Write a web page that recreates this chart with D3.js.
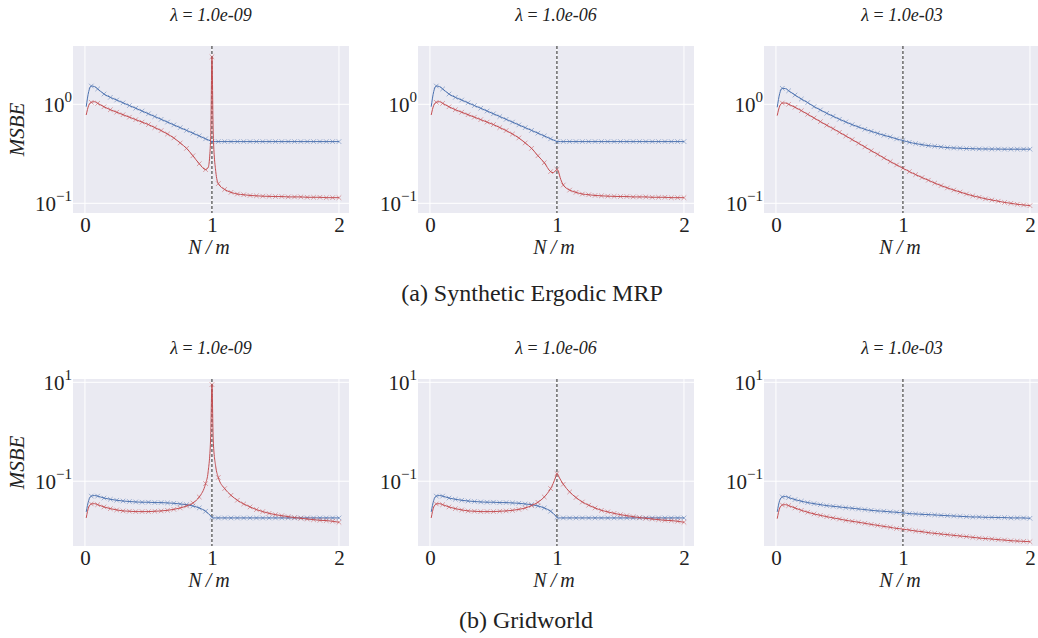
<!DOCTYPE html>
<html><head><meta charset="utf-8">
<script src="https://cdn.jsdelivr.net/npm/d3@7"></script>
<style>body{margin:0;background:#fff}svg{display:block}text{font-family:"Liberation Serif","Times New Roman",serif;fill:#222}</style>
</head><body><svg id="c" width="1038" height="638"></svg>
<script>
// x = N/m
const X = [0.01,0.03,0.05,0.075,0.1,0.15,0.2,0.25,0.3,0.35,0.4,0.45,0.5,0.55,0.6,0.65,0.7,0.75,0.8,0.85,0.9,0.95,0.97,0.99,1.0,1.01,1.03,1.05,1.1,1.15,1.2,1.25,1.3,1.35,1.4,1.45,1.5,1.55,1.6,1.65,1.7,1.75,1.8,1.85,1.9,1.95,2.0];
const lambdas = ["1.0e-09","1.0e-06","1.0e-03"];
const captions = ["(a) Synthetic Ergodic MRP","(b) Gridworld"];
// (a) Synthetic Ergodic MRP
const blueA_9 = [0.946,1.35,1.53,1.51,1.43,1.27,1.175,1.104,1.035,0.971,0.912,0.855,0.802,0.752,0.705,0.661,0.619,0.581,0.545,0.511,0.479,0.448,0.437,0.425,0.420,0.420,0.420,0.420,0.420,0.420,0.420,0.420,0.420,0.420,0.420,0.420,0.420,0.420,0.420,0.420,0.420,0.420,0.420,0.420,0.420,0.420,0.420];
const redA_9 = [0.780,0.977,1.047,1.062,1.023,0.944,0.881,0.832,0.785,0.741,0.700,0.661,0.624,0.582,0.543,0.501,0.457,0.407,0.359,0.302,0.251,0.219,0.229,0.447,3.02,0.501,0.209,0.158,0.138,0.129,0.124,0.122,0.120,0.119,0.118,0.1175,0.117,0.117,0.116,0.116,0.116,0.115,0.115,0.115,0.114,0.114,0.114];
const blueA_6 = [0.946,1.35,1.53,1.51,1.43,1.27,1.175,1.104,1.035,0.971,0.912,0.855,0.802,0.752,0.705,0.661,0.619,0.581,0.545,0.511,0.479,0.448,0.437,0.425,0.420,0.420,0.420,0.420,0.420,0.420,0.420,0.420,0.420,0.420,0.420,0.420,0.420,0.420,0.420,0.420,0.420,0.420,0.420,0.420,0.420,0.420,0.420];
const redA_6 = [0.780,0.977,1.047,1.062,1.023,0.944,0.881,0.832,0.785,0.741,0.700,0.661,0.624,0.582,0.543,0.501,0.457,0.407,0.359,0.302,0.257,0.209,0.204,0.214,0.220,0.211,0.174,0.153,0.136,0.129,0.124,0.122,0.120,0.119,0.118,0.1175,0.117,0.117,0.116,0.116,0.116,0.115,0.115,0.115,0.114,0.114,0.114];
const blueA_3 = [0.933,1.29,1.45,1.44,1.37,1.24,1.13,1.04,0.947,0.877,0.811,0.757,0.706,0.663,0.623,0.590,0.559,0.534,0.509,0.486,0.468,0.447,0.440,0.433,0.430,0.427,0.420,0.413,0.401,0.391,0.382,0.377,0.371,0.365,0.362,0.360,0.357,0.356,0.354,0.354,0.353,0.353,0.352,0.352,0.352,0.352,0.352];
const redA_3 = [0.769,0.962,1.03,1.03,1.0,0.933,0.863,0.792,0.728,0.668,0.614,0.568,0.521,0.479,0.440,0.404,0.371,0.340,0.313,0.287,0.264,0.244,0.237,0.229,0.226,0.222,0.216,0.209,0.195,0.182,0.171,0.160,0.151,0.143,0.136,0.130,0.124,0.119,0.115,0.111,0.108,0.105,0.102,0.100,0.0977,0.0962,0.0947];
// (b) Gridworld
const blueB_9 = [0.024,0.0412,0.050,0.0513,0.050,0.0457,0.0431,0.0412,0.0398,0.0389,0.0381,0.0376,0.0376,0.0370,0.0370,0.0364,0.0358,0.0347,0.0336,0.0316,0.0288,0.0247,0.0224,0.0199,0.0186,0.0181,0.0181,0.0181,0.0181,0.0181,0.0181,0.0181,0.0181,0.0181,0.0181,0.0181,0.0181,0.0181,0.0181,0.0181,0.0181,0.0181,0.0181,0.0181,0.0181,0.0181,0.0181];
const redB_9 = [0.0181,0.0302,0.0347,0.0352,0.0336,0.0302,0.0279,0.0263,0.0251,0.0247,0.0243,0.0243,0.0243,0.0247,0.0251,0.0258,0.0270,0.0288,0.0316,0.0363,0.0481,0.0897,0.155,0.79,9.0,0.68,0.195,0.119,0.071,0.052,0.0412,0.0347,0.0302,0.0267,0.0243,0.0224,0.0211,0.0201,0.0192,0.0184,0.0178,0.0172,0.0167,0.0162,0.0160,0.0155,0.0148];
const blueB_6 = [0.024,0.0412,0.050,0.0513,0.050,0.0457,0.0431,0.0412,0.0398,0.0389,0.0381,0.0376,0.0376,0.0370,0.0370,0.0364,0.0358,0.0347,0.0336,0.0316,0.0288,0.0247,0.0224,0.0199,0.0186,0.0181,0.0181,0.0181,0.0181,0.0181,0.0181,0.0181,0.0181,0.0181,0.0181,0.0181,0.0181,0.0181,0.0181,0.0181,0.0181,0.0181,0.0181,0.0181,0.0181,0.0181,0.0181];
const redB_6 = [0.0181,0.0302,0.0347,0.0352,0.0336,0.0302,0.0279,0.0263,0.0251,0.0247,0.0243,0.0243,0.0243,0.0247,0.0251,0.0258,0.0270,0.0288,0.0322,0.0375,0.0481,0.071,0.0897,0.122,0.143,0.130,0.105,0.087,0.0608,0.0468,0.038,0.0327,0.0288,0.0258,0.024,0.0224,0.0211,0.0201,0.0192,0.0184,0.0178,0.0172,0.0167,0.0162,0.0160,0.0155,0.0148];
const blueB_3 = [0.024,0.0412,0.0481,0.049,0.0468,0.0425,0.0394,0.0370,0.0352,0.0336,0.0321,0.0311,0.0302,0.0292,0.0284,0.0275,0.0267,0.0258,0.0251,0.0247,0.0240,0.0236,0.0232,0.0232,0.0228,0.0228,0.0224,0.0221,0.0218,0.0214,0.0211,0.0208,0.0204,0.0201,0.0198,0.0195,0.0192,0.0189,0.0189,0.0186,0.0186,0.0184,0.0184,0.0181,0.0181,0.0181,0.0178];
const redB_3 = [0.0175,0.0288,0.0331,0.0336,0.0321,0.0288,0.0258,0.0236,0.0218,0.0204,0.0192,0.0181,0.0172,0.0162,0.0155,0.0148,0.0141,0.0134,0.0128,0.0122,0.0117,0.0111,0.0110,0.0108,0.0106,0.0106,0.0105,0.0103,0.00985,0.00955,0.00912,0.00883,0.00855,0.00831,0.00804,0.00780,0.00759,0.00733,0.00710,0.00692,0.00678,0.00658,0.00646,0.00627,0.00617,0.00608,0.00598];
const xTicks = [0,1,2];
const yTicksA = [1, 0.1], yTickExpA = ["0","\u22121"];
const yTicksB = [10, 0.1], yTickExpB = ["1","\u22121"];

const BLUE = "#4C72B0", RED = "#C44E52";
const svg = d3.select("#c");
const colLeft = [73, 418, 764], PW = 276, PH = 167;
const rows = [
  {top:46, dom:[0.0798,3.88], ticks:yTicksA, exps:yTickExpA, series:[[blueA_9,redA_9],[blueA_6,redA_6],[blueA_3,redA_3]], cap:captions[0], capY:301, titleY:21},
  {top:379, dom:[0.0049,11.67], ticks:yTicksB, exps:yTickExpB, series:[[blueB_9,redB_9],[blueB_6,redB_6],[blueB_3,redB_3]], cap:captions[1], capY:628, titleY:354}
];
const isMarker = x => x >= 0.049 && Math.abs(x*20 - Math.round(x*20)) < 1e-6;

rows.forEach((R, ri) => {
  R.series.forEach((pair, ci) => {
    const left = colLeft[ci], top = R.top;
    const x = d3.scaleLinear().domain([-0.094, 2.079]).range([left, left+PW]);
    const y = d3.scaleLog().domain(R.dom).range([top+PH, top]);
    const g = svg.append("g");
    g.append("rect").attr("x",left).attr("y",top).attr("width",PW).attr("height",PH).attr("fill","#EAEAF2");
    g.selectAll(".gx").data(xTicks).join("line").attr("x1",d=>x(d)).attr("x2",d=>x(d)).attr("y1",top).attr("y2",top+PH).attr("stroke","#fff").attr("stroke-width",1);
    g.selectAll(".gy").data(R.ticks).join("line").attr("x1",left).attr("x2",left+PW).attr("y1",d=>y(d)).attr("y2",d=>y(d)).attr("stroke","#fff").attr("stroke-width",1);
    const cid = "clip"+ri+ci;
    svg.append("clipPath").attr("id",cid).append("rect").attr("x",left).attr("y",top).attr("width",PW).attr("height",PH);
    const pg = g.append("g").attr("clip-path",`url(#${cid})`);
    pg.append("line").attr("x1",x(1)).attr("x2",x(1)).attr("y1",top).attr("y2",top+PH).attr("stroke","#222").attr("stroke-width",1).attr("stroke-dasharray","3,2");
    const line = d3.line().x(d=>x(d[0])).y(d=>y(d[1])).curve(d3.curveMonotoneX);
    [[pair[0],BLUE],[pair[1],RED]].forEach(([vals,col]) => {
      const pts = X.map((xx,i)=>[xx, vals[i]]);
      pg.append("path").attr("d", line(pts)).attr("fill","none").attr("stroke",col).attr("stroke-width",1);
      const m = pts.filter(p=>isMarker(p[0]));
      const s = 2.3;
      pg.selectAll(null).data(m).join("path")
        .attr("d", p=>{const cx=x(p[0]), cy=y(p[1]); return `M${cx-s},${cy-s}L${cx+s},${cy+s}M${cx-s},${cy+s}L${cx+s},${cy-s}`;})
        .attr("stroke",col).attr("stroke-width",1).attr("opacity",0.5).attr("fill","none");
    });
    const ax = g.append("g").attr("transform",`translate(0,${top+PH})`).call(d3.axisBottom(x).tickValues(xTicks).tickSize(0).tickPadding(4).tickFormat(d3.format("d")));
    ax.select(".domain").remove();
    ax.selectAll("text").attr("font-size",21).attr("font-family","Liberation Serif").attr("fill","#222");
    const ay = g.append("g").attr("transform",`translate(${left},0)`).call(d3.axisLeft(y).tickValues(R.ticks).tickSize(0).tickPadding(1).tickFormat(""));
    ay.select(".domain").remove();
    ay.selectAll(".tick text").each(function(d,i){
      const t = d3.select(this).attr("font-size",21).attr("font-family","Liberation Serif").attr("fill","#222").attr("dy","0.35em");
      t.append("tspan").text("10");
      t.append("tspan").attr("font-size",15).attr("dy","-0.7em").text(R.exps[i]);
    });
    const tt = svg.append("text").attr("x",left+PW/2).attr("y",R.titleY).attr("text-anchor","middle").attr("font-size",18).attr("font-style","italic");
    tt.append("tspan").text("\u03bb");
    tt.append("tspan").attr("font-style","normal").text(" = ");
    tt.append("tspan").text("1.0e-"+lambdas[ci].split("-")[1]);
    svg.append("text").attr("x",left+PW/2 - 2).attr("y",top+PH+41).attr("text-anchor","middle").attr("font-size",20).attr("font-style","italic").text("N\u2009/\u2009m");
    if (ci===0) {
      svg.append("text").attr("transform",`translate(24,${top+PH/2}) rotate(-90)`).attr("text-anchor","middle").attr("font-size",21).attr("font-style","italic").text("MSBE");
    }
  });
  svg.append("text").attr("x", ri===0?532:526).attr("y",R.capY).attr("text-anchor","middle").attr("font-size",24).text(R.cap);
});
</script></body></html>
